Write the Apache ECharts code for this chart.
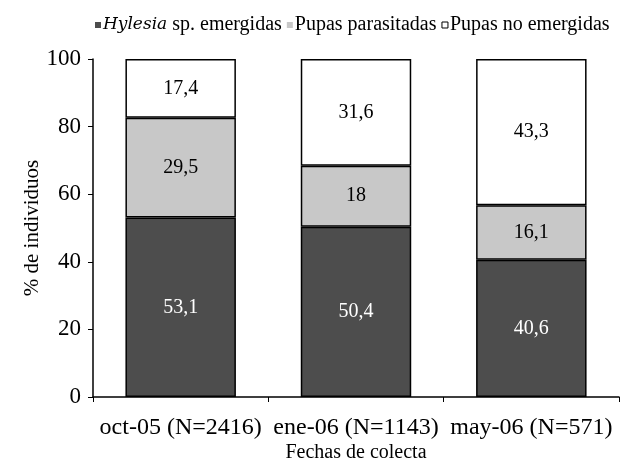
<!DOCTYPE html>
<html>
<head>
<meta charset="utf-8">
<script src="https://cdn.jsdelivr.net/npm/echarts@6/dist/echarts.min.js"></script>
<style>
  html, body { margin: 0; padding: 0; background: #fff; }
  #chart { width: 626px; height: 459px; }
</style>
</head>
<body>
<div id="chart"></div>
<script>
var categories = ['oct-05 (N=2416)', 'ene-06 (N=1143)', 'may-06 (N=571)']
var emergidas = [53.1, 50.4, 40.6]
var parasitadas = [29.5, 18, 16.1]
var noEmergidas = [17.4, 31.6, 43.3]
var seriesNames = ['Hylesia sp. emergidas', 'Pupas parasitadas', 'Pupas no emergidas']

var font = '"Liberation Serif", "Times New Roman", serif'
var chart = echarts.init(document.getElementById('chart'))

function barSeries(name, data, color, labelColor) {
    return {
        type: 'bar',
        name: name,
        stack: 'total',
        data: data,
        barWidth: '63%',
        itemStyle: { color: color, borderColor: '#000', borderWidth: 1.5 },
        label: {
            show: true,
            position: 'inside',
            color: labelColor,
            fontFamily: font,
            fontSize: 20,
            formatter: function (p) { return String(p.value).replace('.', ',') }
        }
    }
}

chart.setOption({
    animation: false,
    legend: {
        top: 10,
        left: 90,
        itemWidth: 6,
        itemHeight: 6,
        itemGap: 5,
        icon: 'rect',
        textStyle: {
            fontFamily: font,
            fontSize: 20,
            color: '#000',
            padding: [0, 0, 0, -3],
            rich: { i: { fontFamily: '"DejaVu Serif"', fontSize: 17, fontStyle: 'italic', color: '#000' } }
        },
        formatter: function (name) {
            return name.indexOf('Hylesia') === 0 ? '{i|Hylesia}' + name.slice(7) : name
        },
        data: [
            { name: seriesNames[0], itemStyle: { borderWidth: 0 } },
            { name: seriesNames[1], itemStyle: { borderWidth: 0 } },
            { name: seriesNames[2], itemStyle: { borderColor: '#000', borderWidth: 1 } }
        ]
    },
    grid: { left: 93, right: 7, top: 59, bottom: 62, outerBoundsMode: 'none', containLabel: false },
    xAxis: {
        type: 'category',
        data: categories,
        name: 'Fechas de colecta',
        nameLocation: 'middle',
        nameGap: 46,
        nameMoveOverlap: false,
        nameTextStyle: { fontFamily: font, fontSize: 20, color: '#000' },
        axisLine: { lineStyle: { color: '#000', width: 1.5 } },
        axisTick: { show: true, length: 5, lineStyle: { color: '#000' } },
        axisLabel: { fontFamily: font, fontSize: 24, color: '#000', margin: 19, interval: 0 }
    },
    yAxis: {
        type: 'value',
        min: 0,
        max: 100,
        interval: 20,
        name: '% de individuos',
        nameLocation: 'middle',
        nameGap: 50,
        nameMoveOverlap: false,
        nameTextStyle: { fontFamily: font, fontSize: 21, color: '#000' },
        axisLine: { show: true, lineStyle: { color: '#000', width: 1.5 } },
        axisTick: { show: true, length: 5, lineStyle: { color: '#000' } },
        axisLabel: { fontFamily: font, fontSize: 23, color: '#000', margin: 12 },
        splitLine: { show: false }
    },
    series: [
        barSeries(seriesNames[0], emergidas, '#4d4d4d', '#fff'),
        barSeries(seriesNames[1], parasitadas, '#c8c8c8', '#000'),
        barSeries(seriesNames[2], noEmergidas, '#fff', '#000')
    ]
})
</script>
</body>
</html>
